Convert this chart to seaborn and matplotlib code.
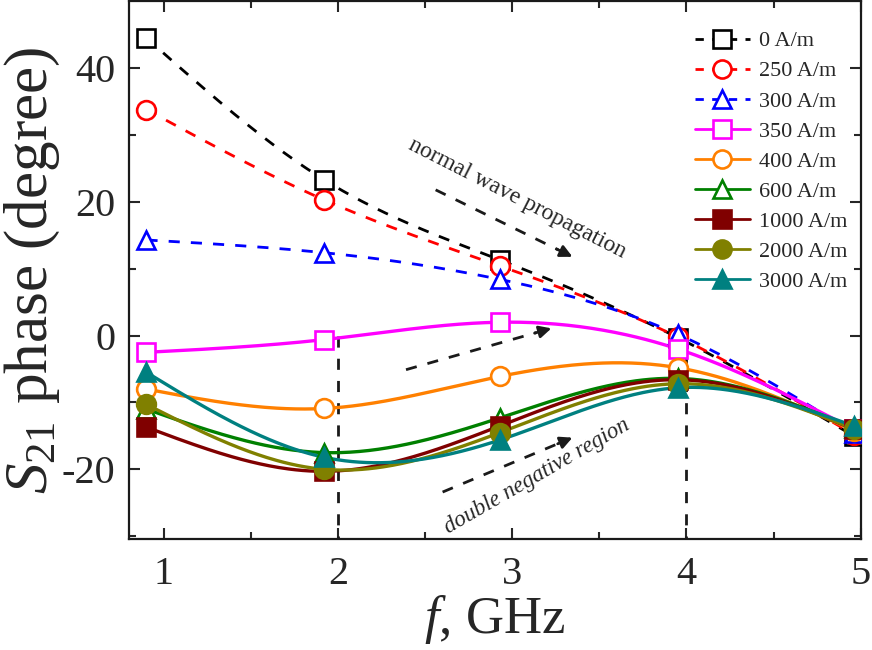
import numpy as np
import pandas as pd
import matplotlib
matplotlib.use("Agg")
import matplotlib.pyplot as plt
from matplotlib.lines import Line2D
import seaborn as sns

# ---------------- data ----------------
freq = [0.9, 1.92, 2.93, 3.95, 4.96]
labels = ["0 A/m", "250 A/m", "300 A/m", "350 A/m", "400 A/m",
          "600 A/m", "1000 A/m", "2000 A/m", "3000 A/m"]
phase_0 = [44.5, 23.3, 11.3, -0.3, -15.0]
phase_250 = [33.8, 20.3, 10.4, -0.2, -14.8]
phase_300 = [14.3, 12.4, 8.4, 0.2, -14.5]
phase_350 = [-2.5, -0.6, 2.0, -2.0, -14.0]
phase_400 = [-8.0, -10.9, -6.1, -4.8, -14.2]
phase_600 = [-11.0, -17.5, -12.3, -6.4, -13.8]
phase_1000 = [-13.7, -20.3, -13.5, -6.6, -14.0]
phase_2000 = [-10.3, -20.0, -14.5, -7.2, -13.9]
phase_3000 = [-5.5, -18.2, -15.6, -7.8, -13.5]
series = [phase_0, phase_250, phase_300, phase_350, phase_400,
          phase_600, phase_1000, phase_2000, phase_3000]

colors = ["#000000", "#FF0000", "#0000FF", "#FF00FF", "#FF8000",
          "#008000", "#800000", "#808000", "#008080"]
markers = ["s", "o", "^", "s", "o", "^", "s", "o", "^"]
filled = [False, False, False, False, False, False, True, True, True]
styles = ["--", "--", "--", "-", "-", "-", "-", "-", "-"]


def natural_spline(x, y, n=300):
    x = np.asarray(x, float)
    y = np.asarray(y, float)
    k = len(x)
    h = np.diff(x)
    A = np.zeros((k, k))
    b = np.zeros(k)
    A[0, 0] = 1
    A[-1, -1] = 1
    for i in range(1, k - 1):
        A[i, i - 1] = h[i - 1]
        A[i, i] = 2 * (h[i - 1] + h[i])
        A[i, i + 1] = h[i]
        b[i] = 6 * ((y[i + 1] - y[i]) / h[i] - (y[i] - y[i - 1]) / h[i - 1])
    M = np.linalg.solve(A, b)
    xs = np.linspace(x[0], x[-1], n)
    ys = np.empty_like(xs)
    for j, t in enumerate(xs):
        i = min(np.searchsorted(x, t) - 1, k - 2)
        i = max(i, 0)
        a = x[i + 1] - t
        c = t - x[i]
        ys[j] = (M[i] * a ** 3 + M[i + 1] * c ** 3) / (6 * h[i]) \
            + (y[i] / h[i] - M[i] * h[i] / 6) * a \
            + (y[i + 1] / h[i] - M[i + 1] * h[i] / 6) * c
    return xs, ys


# ---------------- style ----------------
sns.set_theme(style="ticks")
plt.rcParams["font.family"] = ["Liberation Serif", "DejaVu Serif"]
plt.rcParams["mathtext.fontset"] = "custom"
plt.rcParams["mathtext.rm"] = "Liberation Serif"
plt.rcParams["mathtext.it"] = "Liberation Serif:italic"
plt.rcParams["axes.unicode_minus"] = False

fig = plt.figure(figsize=(8.72, 6.5), dpi=100)
ax = fig.add_axes([0.148, 0.171, 0.839, 0.827])

for i, (lab, vals) in enumerate(zip(labels, series)):
    xs, ys = natural_spline(freq, vals)
    dense = pd.DataFrame({"f": xs, "phase": ys})
    lw = 2.0 if styles[i] == "--" else 2.4
    sns.lineplot(data=dense, x="f", y="phase", ax=ax, color=colors[i],
                 linestyle=styles[i], linewidth=lw, zorder=2 + i * 0.1,
                 legend=False)
    if styles[i] == "--":
        ax.lines[-1].set_dashes([4, 4])
    pts = pd.DataFrame({"f": freq, "phase": vals})
    mfc = colors[i] if filled[i] else "white"
    ax.plot(pts["f"], pts["phase"], ls="none", marker=markers[i],
            markersize=13.5, markerfacecolor=mfc, markeredgecolor=colors[i],
            markeredgewidth=1.9, zorder=4 + i * 0.1)

# vertical dashed guides
ax.plot([2, 2], [0, -31], color="k", lw=2, ls=(0, (4, 4)), zorder=1)
ax.plot([4, 4], [0, -31], color="k", lw=2, ls=(0, (4, 4)), zorder=1)


def dashed_arrow(x0, y0, x1, y1):
    ax.plot([x0, x0 + 0.88 * (x1 - x0)], [y0, y0 + 0.88 * (y1 - y0)],
            color="k", lw=2, ls=(0, (4, 4)), zorder=1)
    ax.annotate("", xy=(x1, y1),
                xytext=(x0 + 0.85 * (x1 - x0), y0 + 0.85 * (y1 - y0)),
                arrowprops=dict(arrowstyle="-|>", color="k", lw=2,
                                mutation_scale=18), zorder=1)


dashed_arrow(2.56, 21.8, 3.36, 11.6)
dashed_arrow(2.39, -5.1, 3.24, 1.2)
dashed_arrow(2.60, -23.4, 3.36, -15.1)

ax.text(3.03, 20.5, "normal wave propagation", rotation=-27, fontsize=17,
        ha="center", va="center", rotation_mode="anchor")
ax.text(3.14, -21.0, "double negative region", rotation=30, fontsize=16.5,
        style="italic", ha="center", va="center", rotation_mode="anchor")

ax.set_xlim(0.8, 5.0)
ax.set_ylim(-30.4, 50)
ax.set_xticks([1, 2, 3, 4, 5])
ax.set_xticks([1.5, 2.5, 3.5, 4.5], minor=True)
ax.set_yticks([-20, 0, 20, 40])
ax.set_yticks([-30, -10, 10, 30], minor=True)
ax.tick_params(which="both", direction="in", top=True, right=True,
               labelsize=29, width=1.5)
ax.tick_params(axis="x", pad=12)
ax.tick_params(axis="y", pad=10)
ax.tick_params(which="major", length=8)
ax.tick_params(which="minor", length=5)
for s in ax.spines.values():
    s.set_linewidth(1.6)
    s.set_color("k")

ax.set_xlabel("$f$, GHz", fontsize=38, labelpad=0)
ax.set_ylabel("$S_{21}$ phase (degree)", fontsize=44, labelpad=0)

handles = []
for i in range(len(labels)):
    mfc = colors[i] if filled[i] else "white"
    h = Line2D([], [], color=colors[i], lw=2,
               ls=(0, (3, 3)) if styles[i] == "--" else "-",
               marker=markers[i], markersize=13, markerfacecolor=mfc,
               markeredgecolor=colors[i], markeredgewidth=1.9)
    handles.append(h)
ax.legend(handles, labels, loc="upper right", bbox_to_anchor=(1.0, 0.97),
          frameon=False, fontsize=16, handlelength=2.5, labelspacing=0.43,
          handletextpad=0.4, borderaxespad=0.2)

fig.savefig("out.png", dpi=100)
